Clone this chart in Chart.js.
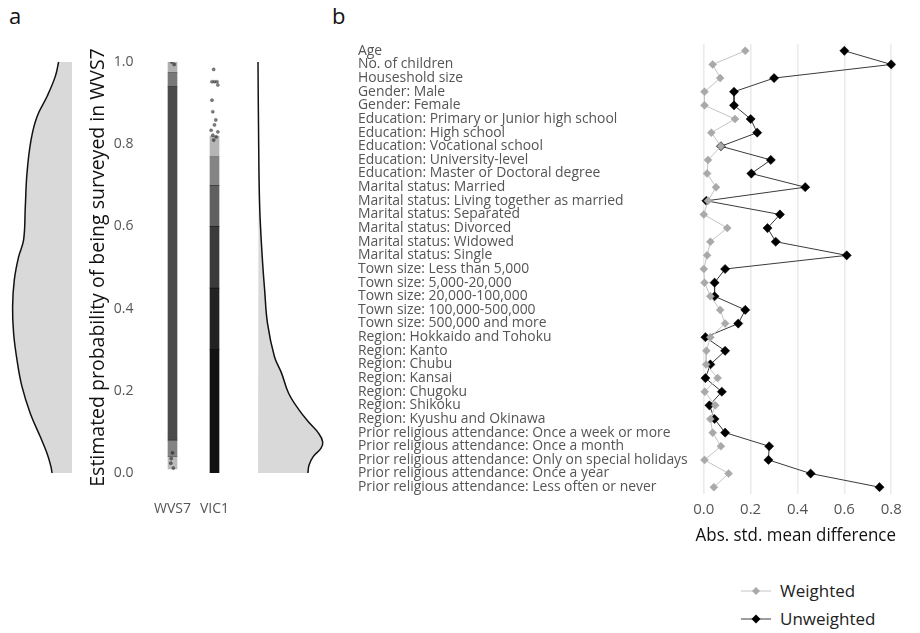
<!DOCTYPE html>
<html>
<head>
<meta charset="utf-8">
<script src="https://cdn.jsdelivr.net/npm/chart.js@4.4.0/dist/chart.umd.min.js"></script>
<style>
body { margin: 0; background: #fff; font-family: "Open Sans", sans-serif; }
#wrap { position: relative; width: 920px; height: 633px; overflow: hidden; }
#wrap canvas, .lbl { position: absolute; }
.lbl { color: #111; }
.leg { position: absolute; left: 740px; font-size: 17px; color: #222; display: flex; align-items: center; }
#wrap .leg canvas { position: static; margin-right: 8px; }
</style>
</head>
<body>
<div id="wrap">
  <div class="lbl" style="left:9px; top:0px; font-size:22px;">a</div>
  <div class="lbl" style="left:332px; top:0px; font-size:22px;">b</div>

  <canvas id="densL" width="76" height="421" style="left:0px; top:57px;"></canvas>
  <canvas id="strip" width="170" height="496" style="left:70px; top:32px;"></canvas>
  <canvas id="densR" width="80" height="421" style="left:254px; top:57px;"></canvas>
  <canvas id="balance" width="551" height="523" style="left:358px; top:31px;"></canvas>

  <div class="leg" style="top:579px;"><canvas id="legW" width="32" height="14"></canvas>Weighted</div>
  <div class="leg" style="top:607px;"><canvas id="legU" width="32" height="14"></canvas>Unweighted</div>
</div>

<script>
// ---- panel a: density of propensity scores (width in px units) ----
const wvsDensProb = [0.0, 0.015, 0.048, 0.088, 0.145, 0.21, 0.275, 0.34, 0.405, 0.47, 0.526, 0.567, 0.648, 0.73, 0.81, 0.867, 0.916, 0.965, 1.0];
const wvsDensVal  = [20, 21, 25, 31.7, 41.7, 50, 55, 58.4, 59.4, 57.7, 53.4, 48.4, 46.7, 45, 41, 35, 25, 16.7, 13.4];

const vicDensProb = [0.0, 0.019, 0.04, 0.06, 0.076, 0.097, 0.121, 0.153, 0.194, 0.243, 0.283, 0.364, 0.445, 0.526, 0.648, 0.81, 1.0];
const vicDensVal  = [47.3, 48.3, 52.3, 59.6, 61.3, 57.3, 49, 39, 29, 22.3, 15.6, 9, 6.3, 4, 1.6, 0.6, 0];

// strips of jittered points, summarised as shaded bands
const stripLabels = ['WVS7', 'VIC1'];
const wvsBandLo = [0.01, 0.04, 0.08, 0.94, 0.975];
const wvsBandHi = [0.04, 0.08, 0.94, 0.975, 1.0];
const wvsBandAlpha = [0.3, 0.55, 0.8, 0.6, 0.35];
const vicBandLo = [0.0, 0.3, 0.45, 0.6, 0.7, 0.77];
const vicBandHi = [0.3, 0.45, 0.6, 0.7, 0.77, 0.82];
const vicBandAlpha = [0.97, 0.9, 0.8, 0.65, 0.5, 0.3];
// sparse single points at the strip ends (x in category units)
const sparseX = [0.98, 1.0, 0.94, 1.06, 1.08, 0.94, 0.96, 1.03, 1.0, 0.92, 1.08, 0.96, 1.04, 0.98, -0.02, 0.04, 0.0, -0.04, 0.02, -0.03];
const sparseY = [0.982, 0.952, 0.952, 0.952, 0.944, 0.907, 0.879, 0.859, 0.847, 0.834, 0.83, 0.822, 0.818, 0.81, 1.0, 0.994, 0.049, 0.024, 0.012, 0.035];

// ---- panel b: covariate balance ----
const rowLabels = [
  'Age', 'No. of children', 'Houseshold size', 'Gender: Male', 'Gender: Female',
  'Education: Primary or Junior high school', 'Education: High school', 'Education: Vocational school',
  'Education: University-level', 'Education: Master or Doctoral degree',
  'Marital status: Married', 'Marital status: Living together as married', 'Marital status: Separated',
  'Marital status: Divorced', 'Marital status: Widowed', 'Marital status: Single',
  'Town size: Less than 5,000', 'Town size: 5,000-20,000', 'Town size: 20,000-100,000',
  'Town size: 100,000-500,000', 'Town size: 500,000 and more',
  'Region: Hokkaido and Tohoku', 'Region: Kanto', 'Region: Chubu', 'Region: Kansai',
  'Region: Chugoku', 'Region: Shikoku', 'Region: Kyushu and Okinawa',
  'Prior religious attendance: Once a week or more', 'Prior religious attendance: Once a month',
  'Prior religious attendance: Only on special holidays', 'Prior religious attendance: Once a year',
  'Prior religious attendance: Less often or never'
];
const weighted = [0.177, 0.038, 0.07, 0.003, 0.003, 0.133, 0.032, 0.073, 0.018, 0.014,
  0.052, 0.018, 0.0, 0.1, 0.028, 0.014, 0.0, 0.003, 0.028, 0.07, 0.091,
  0.028, 0.011, 0.01, 0.059, 0.004, 0.049, 0.028, 0.038, 0.073, 0.003, 0.106, 0.043];
const unweighted = [0.60, 0.80, 0.30, 0.129, 0.129, 0.20, 0.228, 0.073, 0.286, 0.203,
  0.433, 0.011, 0.325, 0.272, 0.307, 0.61, 0.091, 0.046, 0.046, 0.177, 0.147,
  0.007, 0.091, 0.028, 0.007, 0.077, 0.024, 0.046, 0.091, 0.279, 0.276, 0.456, 0.75];
const xTicks = [0, 0.2, 0.4, 0.6, 0.8];

const FONT = '"Open Sans", sans-serif';
const FILL_GREY = '#d9d9d9';

function densityChart(id, probs, vals, reverse, pad) {
  const curve = probs.map((p, i) => ({ x: vals[i], y: p }));
  const shape = curve.concat([{ x: 0, y: 1 }, { x: 0, y: 0 }]);
  new Chart(document.getElementById(id), {
    type: 'scatter',
    data: {
      datasets: [
        { data: curve, showLine: true, borderColor: '#111', borderWidth: 1.5, pointRadius: 0, tension: 0.4, fill: false, clip: 4 },
        { data: shape, showLine: true, borderWidth: 0, pointRadius: 0, tension: 0, fill: 'shape', backgroundColor: FILL_GREY, clip: 0 }
      ]
    },
    options: {
      responsive: false, animation: false, events: [],
      layout: { padding: pad },
      plugins: { legend: { display: false }, tooltip: { enabled: false } },
      scales: {
        x: { type: 'linear', min: 0, max: 72, reverse: reverse, display: false },
        y: { type: 'linear', min: 0, max: 1, display: false }
      }
    }
  });
}

densityChart('densL', wvsDensProb, wvsDensVal, true, { top: 5, bottom: 5, left: 0, right: 4 });
densityChart('densR', vicDensProb, vicDensVal, false, { top: 5, bottom: 5, left: 4, right: 0 });

// strip chart
const nBands = Math.max(wvsBandLo.length, vicBandLo.length);
const bandSets = [];
for (let i = 0; i < nBands; i++) {
  bandSets.push({
    type: 'bar',
    data: [
      i < wvsBandLo.length ? [wvsBandLo[i], wvsBandHi[i]] : null,
      i < vicBandLo.length ? [vicBandLo[i], vicBandHi[i]] : null
    ],
    backgroundColor: [`rgba(30,30,30,${wvsBandAlpha[i] || 0})`, `rgba(10,10,10,${vicBandAlpha[i] || 0})`],
    borderWidth: 0, barThickness: 9, grouped: false
  });
}
bandSets.push({
  type: 'scatter', xAxisID: 'x2',
  data: sparseX.map((x, i) => ({ x: x, y: sparseY[i] })),
  pointRadius: 1.6, pointBackgroundColor: 'rgba(40,40,40,0.6)', pointBorderColor: 'rgba(40,40,40,0.6)', pointBorderWidth: 0.5
});

new Chart(document.getElementById('strip'), {
  type: 'bar',
  data: { labels: stripLabels, datasets: bandSets },
  options: {
    responsive: false, animation: false, events: [],
    layout: { padding: { top: 30, right: 2, left: 0, bottom: 0 } },
    plugins: { legend: { display: false }, tooltip: { enabled: false } },
    scales: {
      x: {
        type: 'category',
        afterFit: s => { s.height = 55; s.paddingLeft = 0; s.paddingRight = 0; },
        grid: { display: false, drawTicks: false }, border: { display: false },
        ticks: { padding: 28, maxRotation: 0, minRotation: 0, autoSkip: false, color: '#555', font: { family: FONT, size: 14 } }
      },
      x2: { type: 'linear', min: -0.5, max: 1.5, offset: false, grace: 0, display: false },
      y: {
        min: 0, max: 1,
        afterBuildTicks: s => { s.ticks = [0, 0.2, 0.4, 0.6, 0.8, 1.0].map(v => ({ value: v })); },
        afterFit: s => { s.width = 81.5; s.paddingTop = 0; s.paddingBottom = 0; },
        grid: { display: false, drawTicks: false }, border: { display: false },
        ticks: { padding: 18, color: '#555', font: { family: FONT, size: 14 }, callback: v => v.toFixed(1) },
        title: { display: true, text: 'Estimated probability of being surveyed in WVS7', color: '#111', font: { family: FONT, size: 19.5 }, padding: { top: 17, bottom: 0 } }
      }
    }
  }
});

// balance plot
new Chart(document.getElementById('balance'), {
  type: 'line',
  data: {
    labels: rowLabels,
    datasets: [
      { label: 'Weighted', data: weighted, borderColor: '#c4c4c4', borderWidth: 1, pointStyle: 'rectRot', pointRadius: 4, pointBackgroundColor: '#a9a9a9', pointBorderColor: '#a9a9a9', pointBorderWidth: 0.5 },
      { label: 'Unweighted', data: unweighted, borderColor: '#3a3a3a', borderWidth: 1, pointStyle: 'rectRot', pointRadius: 4.6, pointBackgroundColor: '#000', pointBorderColor: '#000', pointBorderWidth: 0.5 }
    ]
  },
  options: {
    indexAxis: 'y',
    responsive: false, animation: false, events: [],
    layout: { padding: { top: 13, right: 10, left: 0, bottom: 0 } },
    plugins: { legend: { display: false }, tooltip: { enabled: false } },
    scales: {
      x: {
        type: 'linear', min: -0.035, max: 0.82,
        afterBuildTicks: s => { s.ticks = xTicks.map(v => ({ value: v })); },
        afterFit: s => { s.height = 60; },
        grid: { color: '#ebebeb', lineWidth: 1.6, drawTicks: false }, border: { display: false },
        ticks: { padding: 7, color: '#555', font: { family: FONT, size: 15 }, callback: v => v.toFixed(1) },
        title: { display: true, text: 'Abs. std. mean difference', color: '#111', font: { family: FONT, size: 18 }, padding: { top: 0, bottom: 7 } }
      },
      y: {
        type: 'category', offset: true,
        afterFit: s => { s.width = 337.6; },
        grid: { display: false, drawTicks: false }, border: { display: false },
        ticks: { crossAlign: 'far', autoSkip: false, padding: 0, color: '#555', font: { family: FONT, size: 13.9 } }
      }
    }
  }
});

// legend keys
function legendKey(id, line, fill, r) {
  const ctx = document.getElementById(id).getContext('2d');
  ctx.strokeStyle = line; ctx.lineWidth = 1;
  ctx.beginPath(); ctx.moveTo(1, 7); ctx.lineTo(31, 7); ctx.stroke();
  ctx.fillStyle = fill;
  ctx.beginPath(); ctx.moveTo(16, 7 - r); ctx.lineTo(16 + r, 7); ctx.lineTo(16, 7 + r); ctx.lineTo(16 - r, 7); ctx.closePath(); ctx.fill();
}
legendKey('legW', '#c4c4c4', '#a9a9a9', 4);
legendKey('legU', '#3a3a3a', '#000', 4.5);
</script>
</body>
</html>
